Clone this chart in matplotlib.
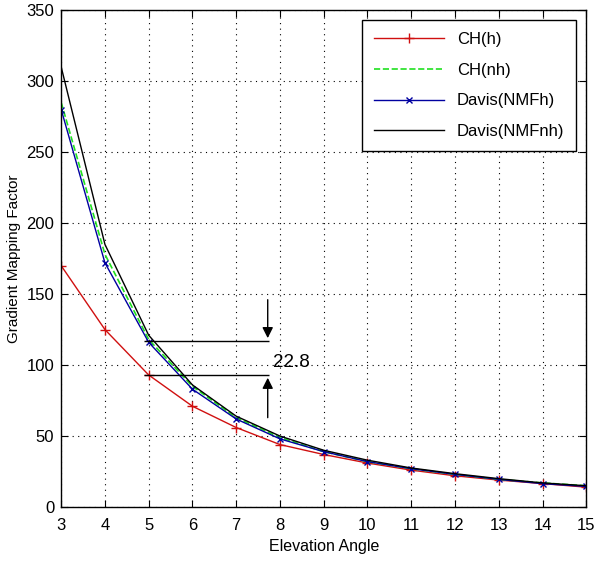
import matplotlib
matplotlib.use("Agg")
import matplotlib.pyplot as plt

plt.rcParams['font.family'] = ['Liberation Sans', 'DejaVu Sans']

# Elevation angle (deg)
elev = [3, 4, 5, 6, 7, 8, 9, 10, 11, 12, 13, 14, 15]

# Gradient mapping factors
ch_h = [170, 125, 93, 71, 56, 44, 37, 31, 26, 22, 19, 16.5, 14]
ch_nh = [285, 178, 118, 85, 63, 49, 39, 32, 27, 23, 19.5, 17, 15]
davis_h = [280, 172, 116, 83, 62, 48, 39, 32, 27, 23, 19.5, 16.5, 14.5]
davis_nh = [310, 185, 121, 86, 64, 50, 40, 33, 27.5, 23.5, 20, 17, 15]

fig = plt.figure(figsize=(5.94, 5.64), dpi=100)
ax = fig.add_axes([0.103, 0.101, 0.884, 0.881])

ax.plot(elev, ch_h, color='#d01010', marker='+', ms=7, lw=1, label='CH(h)')
ax.plot(elev, ch_nh, color='#20e020', ls='--', lw=1.2, label='CH(nh)')
ax.plot(elev, davis_h, color='#0000a0', marker='x', ms=5, lw=1, label='Davis(NMFh)')
ax.plot(elev, davis_nh, color='black', lw=1, label='Davis(NMFnh)')

# annotation of the 22.8 gap at 5 degrees
ax.hlines([117, 93], 4.9, 7.76, color='black', lw=1)
ax.annotate('', xy=(7.72, 117), xytext=(7.72, 148),
            arrowprops=dict(arrowstyle='-|>', color='black', lw=1, mutation_scale=16))
ax.annotate('', xy=(7.72, 93), xytext=(7.72, 61),
            arrowprops=dict(arrowstyle='-|>', color='black', lw=1, mutation_scale=16))
ax.text(7.85, 102, '22.8', fontsize=13.5, va='center', ha='left')

ax.set_xlim(3, 15)
ax.set_ylim(0, 350)
ax.set_xticks(range(3, 16))
ax.set_yticks(range(0, 351, 50))
ax.grid(True, color='black', ls=(0, (1, 4)), lw=0.8)
ax.tick_params(direction='in', labelsize=12, length=5, top=True, right=True)
ax.tick_params(axis='x', pad=8)
ax.tick_params(axis='y', pad=5)
for s in ax.spines.values():
    s.set_linewidth(1)
ax.set_xlabel('Elevation Angle', fontsize=11.5, labelpad=4)
ax.set_ylabel('Gradient Mapping Factor', fontsize=11, labelpad=4)

leg = ax.legend(loc='upper right', fontsize=12, fancybox=False, framealpha=1,
                edgecolor='black', handlelength=4.2, labelspacing=0.95,
                borderaxespad=0.6, borderpad=0.7)
leg.get_frame().set_linewidth(1)

fig.savefig('out.png', dpi=100)
